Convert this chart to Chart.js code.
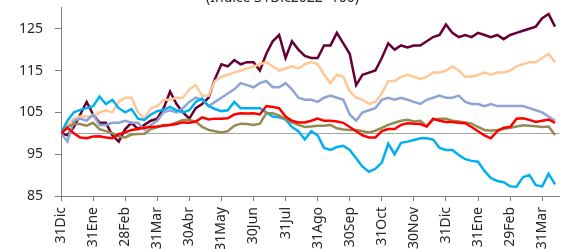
<!DOCTYPE html>
<html>
<head>
<meta charset="utf-8">
<title>Indice 31Dic2022=100</title>
<script src="https://cdn.jsdelivr.net/npm/chart.js@4.4.0/dist/chart.umd.min.js"></script>
<style>
  html, body { margin: 0; padding: 0; background: #fff; overflow: hidden; }
  /* the title sits half above the window, as in the source image */
  #chart { display: block; margin-top: -16px; }
</style>
</head>
<body>
<canvas id="chart" width="565" height="265"></canvas>
<script>
// month-end tick labels (31Dic2022 .. 31Mar2024)
const monthLabels = ['31Dic', '31Ene', '28Feb', '31Mar', '30Abr', '31May', '30Jun', '31Jul',
  '31Ago', '30Sep', '31Oct', '30Nov', '31Dic', '31Ene', '29Feb', '31Mar'];

// one reading every 0.2 month (~4 business days)
const stepMonths = 0.2;
const baseLevel = 100;

const maroonSeries = [100, 99.5, 101.5, 104.5, 107.5, 104.5, 102.5, 102.5, 99.5, 98,
  101, 102.5, 101, 102, 103, 103.5, 106, 110, 107, 105,
  103.5, 106, 107, 108.5, 113, 116.5, 116, 117.5, 116.5, 117,
  117, 115, 119, 122, 123.5, 118, 122, 120, 118.5, 118,
  118, 121, 121, 124, 121.5, 119, 111.5, 114, 114.5, 115,
  118, 121.5, 120, 121, 120.5, 121, 121, 122, 123, 123.5,
  126, 124, 123, 123.5, 123, 124, 123.5, 123, 123.5, 122.5,
  123.5, 124, 124.5, 125, 125.5, 127.5, 128.5, 125.5];

const peachSeries = [100, 102, 103.5, 104, 104, 104, 105, 105.5, 105, 107.5,
  108.5, 108.5, 105, 103.5, 106, 106.5, 108, 108, 108.5, 108.5,
  110.5, 111.5, 109, 109, 112.5, 113.5, 114, 114.5, 115, 115.5,
  116, 116.5, 117, 116, 115, 115.5, 116, 115.5, 116.5, 117,
  116.5, 114, 112, 114, 113.5, 110, 108.5, 108, 107, 107.5,
  109.5, 112.5, 112.5, 113.5, 114, 113.5, 113, 113.5, 114.5, 114.5,
  115, 116, 115, 113.5, 113.5, 114, 114.5, 114, 114.5, 114.5,
  115, 116, 116.5, 117, 117, 118, 119, 117];

const lavenderSeries = [100, 98, 103, 103.5, 103, 104.5, 102, 102, 102.5, 102.5,
  103, 102.5, 102.5, 100.8, 102, 103, 105, 105.5, 105, 106,
  107.5, 108.5, 108, 106.5, 107.5, 108.5, 109.5, 110.5, 112, 111.5,
  111, 112, 112.5, 111, 111, 112, 110.5, 108.5, 108, 108,
  107.5, 108.5, 109, 108.5, 108, 104.5, 103, 105, 105.5, 106,
  108, 108.5, 108, 108.5, 108, 107.5, 107, 108, 108.5, 109,
  108.5, 108.5, 109, 107.5, 107, 107, 106.5, 107, 106.5, 106.5,
  106.5, 106.5, 106.5, 106, 105.5, 105, 104, 103];

const redSeries = [100, 101.3, 100, 99, 98.8, 99.2, 99.3, 99, 98.8, 99.8,
  100.2, 100.8, 101, 101.3, 101.5, 101.6, 101.8, 102, 102.2, 102.6,
  102.5, 102.8, 103.8, 103.3, 103.5, 103.5, 103.6, 104.5, 104.8, 104.7,
  104.8, 104.5, 106.5, 106.3, 106, 104, 103, 102.6, 102.6, 103,
  103.5, 103, 103, 102.8, 102.5, 101.5, 100.5, 99.5, 99, 99,
  100.5, 101, 101, 102, 102.4, 102.3, 102.2, 101.6, 103.5, 103,
  102.7, 102.7, 102.5, 102.4, 101.5, 100.5, 99.5, 98.8, 100.5, 101.3,
  101.5, 103.5, 103.6, 103.2, 102.7, 103, 103.3, 102.5];

const oliveSeries = [100, 101.5, 102.3, 102.2, 101.8, 102.5, 101, 100.5, 100, 99.2,
  99, 99.7, 99.8, 99.9, 101, 101.4, 102, 102, 102.6, 103.2,
  103.2, 102.8, 101.5, 100.8, 100.5, 100.2, 100.5, 101.8, 102.3, 102.2,
  102, 102.3, 104.8, 104.8, 104.2, 103.4, 102.6, 102, 101.5, 101.6,
  101.8, 101.8, 102, 101.2, 100.9, 100.8, 100.8, 100.5, 100.2, 100.6,
  101.3, 102, 102.5, 103, 103.2, 102.8, 103, 101.7, 103.2, 103.5,
  103.5, 103, 102.8, 102.6, 102.3, 101.5, 100.8, 100.6, 100.8, 101.1,
  101.3, 101.6, 101.9, 101.8, 101.7, 101.5, 101.6, 99.6];

const cyanSeries = [100, 103, 105, 105.6, 106, 106.5, 108.8, 107, 108, 106,
  105, 105.8, 103.5, 103.2, 104.5, 105.3, 105.6, 106.3, 105.5, 105,
  105.5, 107.5, 108.3, 106.5, 105.8, 105.3, 105.5, 107.5, 106, 106,
  106, 106, 105, 104, 103.8, 103.3, 101.5, 100.5, 98.5, 100.5,
  99.5, 96.5, 96, 96.7, 97, 96, 94, 92, 90.8, 91.5,
  93, 97.5, 95, 97.7, 98, 98.4, 98.8, 98.8, 98.5, 96.5,
  96, 96, 94.8, 93.8, 93.4, 93.2, 91, 89.3, 88.6, 88.3,
  87.3, 87.2, 89.5, 90, 87.6, 87.3, 90.3, 87.8];

const yTicks = [85, 95, 105, 115, 125];

const toPoints = (arr) => arr.map((v, i) => ({ x: i * stepMonths, y: v }));

const line = (data, color) => ({
  data: toPoints(data),
  borderColor: color,
  backgroundColor: color,
  borderWidth: 2.5,
  pointRadius: 0,
  tension: 0,
});

const axisColor = '#808080';
const textColor = '#262626';

// gray line at the base level, drawn under the series
const baseLinePlugin = {
  id: 'baseLine',
  beforeDatasetsDraw(chart) {
    const { ctx, chartArea, scales } = chart;
    const y = Math.round(scales.y.getPixelForValue(baseLevel)) + 0.5;
    ctx.save();
    ctx.strokeStyle = '#a6a6a6';
    ctx.lineWidth = 1;
    ctx.beginPath();
    ctx.moveTo(chartArea.left, y);
    ctx.lineTo(chartArea.right, y);
    ctx.stroke();
    ctx.restore();
  },
};

new Chart(document.getElementById('chart'), {
  type: 'line',
  data: {
    // first dataset is drawn on top
    datasets: [
      line(redSeries, '#ff0000'),
      line(oliveSeries, '#948a54'),
      line(cyanSeries, '#00b0f0'),
      line(lavenderSeries, '#8ea4d2'),
      line(peachSeries, '#ffc896'),
      line(maroonSeries, '#660033'),
    ],
  },
  options: {
    responsive: false,
    animation: false,
    devicePixelRatio: 1,
    layout: { padding: 0 },
    plugins: {
      legend: { display: false },
      tooltip: { enabled: false },
      title: {
        display: true,
        text: '(Indice 31Dic2022=100)',
        color: textColor,
        font: { family: 'Noto Sans', size: 14, weight: 'normal' },
        padding: { top: 6, bottom: 1 },
      },
    },
    scales: {
      x: {
        type: 'linear',
        min: 0,
        max: 15.55,
        afterBuildTicks: (scale) => {
          scale.ticks = monthLabels.map((_, i) => ({ value: i }));
        },
        afterFit: (scale) => { scale.height = 53; },
        ticks: {
          autoSkip: false,
          minRotation: 90,
          maxRotation: 90,
          padding: 6,
          color: textColor,
          font: { family: 'Noto Sans', size: 14 },
          callback: (value, index) => monthLabels[index],
        },
        grid: { display: true, drawOnChartArea: false, drawTicks: true, tickLength: 5, color: axisColor },
        border: { display: true, color: axisColor, width: 1 },
      },
      y: {
        min: 85,
        max: 130,
        afterBuildTicks: (scale) => {
          scale.ticks = yTicks.map((v) => ({ value: v }));
        },
        afterFit: (scale) => { scale.width = 61; },
        ticks: {
          padding: 12,
          color: textColor,
          font: { family: 'Noto Sans', size: 14 },
        },
        grid: { display: true, drawOnChartArea: false, drawTicks: true, tickLength: 6, color: axisColor },
        border: { display: true, color: axisColor, width: 1 },
      },
    },
  },
  plugins: [baseLinePlugin],
});
</script>
</body>
</html>
